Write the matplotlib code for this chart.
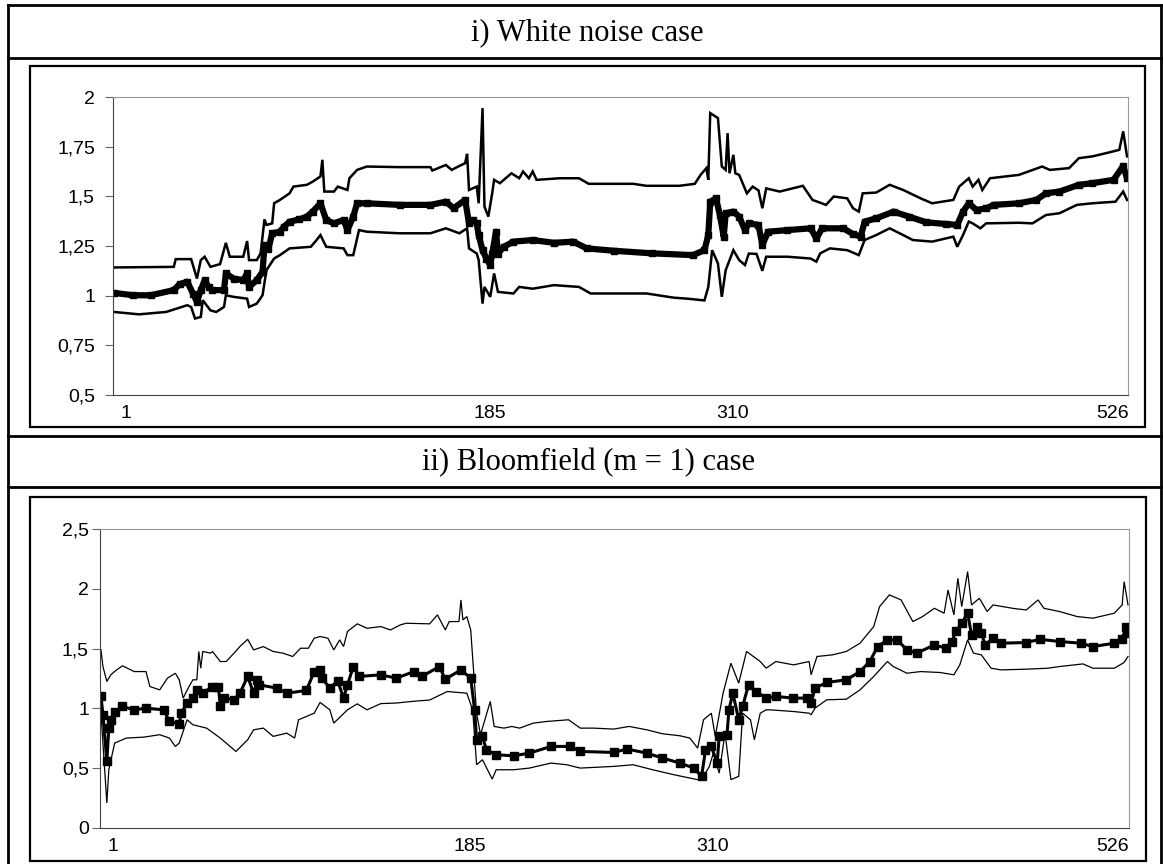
import matplotlib
matplotlib.use('Agg')
import matplotlib.pyplot as plt
import matplotlib.transforms as mtransforms
from matplotlib.lines import Line2D
from matplotlib.patches import Rectangle

W, H = 1163, 864

# i) White noise case : (observation, value)
wn_upper = [(1, 1.142), (32, 1.145), (33, 1.184), (41, 1.184), (44, 1.086), (46, 1.179), (48, 1.196),
            (51, 1.145), (56, 1.159), (59, 1.266), (61, 1.196), (68, 1.196), (70, 1.275), (71, 1.179),
            (75, 1.179), (77, 1.213), (79, 1.384), (80, 1.356), (83, 1.364), (84, 1.465), (87, 1.482),
            (92, 1.515), (94, 1.549), (101, 1.558), (104, 1.574), (108, 1.600), (109, 1.684), (110, 1.524),
            (115, 1.524), (117, 1.549), (122, 1.532), (123, 1.591), (127, 1.633), (132, 1.650), (149, 1.647),
            (165, 1.647), (166, 1.630), (173, 1.658), (176, 1.633), (180, 1.653), (183, 1.667), (184, 1.714),
            (185, 1.532), (189, 1.549), (190, 1.465), (192, 1.944), (193, 1.448), (195, 1.398), (197, 1.515),
            (198, 1.583), (201, 1.566), (204, 1.591), (207, 1.616), (211, 1.591), (213, 1.625), (216, 1.591),
            (218, 1.625), (220, 1.583), (232, 1.591), (242, 1.591), (247, 1.563), (270, 1.563), (277, 1.553),
            (294, 1.553), (302, 1.563), (305, 1.608), (308, 1.642), (309, 1.583), (310, 1.919), (314, 1.894),
            (316, 1.650), (318, 1.633), (319, 1.818), (320, 1.616), (322, 1.709), (323, 1.616), (325, 1.608),
            (329, 1.515), (332, 1.549), (335, 1.530), (337, 1.440), (339, 1.540), (346, 1.524), (358, 1.553),
            (363, 1.482), (370, 1.457), (374, 1.499), (381, 1.490), (384, 1.440), (387, 1.423), (389, 1.515),
            (396, 1.519), (403, 1.558), (410, 1.532), (419, 1.490), (425, 1.465), (436, 1.482), (439, 1.549),
            (444, 1.591), (446, 1.549), (449, 1.583), (451, 1.532), (455, 1.591), (470, 1.608), (482, 1.650),
            (486, 1.633), (496, 1.642), (501, 1.692), (508, 1.701), (515, 1.717), (522, 1.734), (524, 1.827),
            (526, 1.701)]
wn_mid = [(1, 1.014), (11, 1.002), (20, 1.002), (32, 1.028), (35, 1.058), (39, 1.070), (42, 1.010), (44, 0.969),
          (46, 1.028), (48, 1.078), (50, 1.044), (52, 1.028), (58, 1.028), (59, 1.112), (63, 1.086), (68, 1.078),
          (70, 1.112), (71, 1.044), (75, 1.078), (78, 1.120), (79, 1.255), (81, 1.233), (83, 1.314), (87, 1.322),
          (89, 1.347), (92, 1.372), (97, 1.384), (101, 1.398), (104, 1.423), (108, 1.465), (111, 1.381),
          (115, 1.364), (120, 1.381), (122, 1.330), (125, 1.398), (127, 1.465), (132, 1.465), (149, 1.457),
          (165, 1.457), (173, 1.473), (177, 1.440), (183, 1.482), (185, 1.364), (187, 1.381), (189, 1.364),
          (190, 1.305), (192, 1.229), (194, 1.187), (196, 1.154), (197, 1.212), (199, 1.322), (200, 1.212),
          (203, 1.246), (208, 1.272), (218, 1.280), (229, 1.266), (239, 1.272), (246, 1.238), (260, 1.226),
          (280, 1.213), (301, 1.204), (307, 1.229), (309, 1.305), (310, 1.473), (313, 1.490), (315, 1.406),
          (317, 1.297), (318, 1.415), (322, 1.423), (325, 1.398), (328, 1.330), (330, 1.364), (335, 1.356),
          (337, 1.255), (340, 1.322), (350, 1.330), (362, 1.339), (365, 1.288), (368, 1.339), (379, 1.339),
          (384, 1.310), (388, 1.297), (390, 1.373), (396, 1.389), (405, 1.423), (413, 1.398), (422, 1.369),
          (432, 1.361), (438, 1.356), (441, 1.423), (444, 1.465), (448, 1.431), (453, 1.440), (457, 1.457),
          (470, 1.465), (479, 1.482), (484, 1.515), (491, 1.524), (501, 1.558), (508, 1.566), (519, 1.583),
          (524, 1.653), (526, 1.591)]
wn_lower = [(1, 0.918), (14, 0.906), (28, 0.918), (39, 0.952), (41, 0.943), (43, 0.885), (46, 0.893), (47, 0.977),
            (51, 0.926), (54, 0.918), (58, 0.943), (59, 1.002), (63, 0.994), (70, 0.985), (71, 0.943), (75, 0.960),
            (78, 1.002), (80, 1.128), (84, 1.187), (87, 1.204), (92, 1.238), (103, 1.246), (106, 1.280),
            (108, 1.305), (111, 1.246), (120, 1.238), (122, 1.204), (125, 1.204), (128, 1.330), (132, 1.322),
            (149, 1.314), (165, 1.314), (173, 1.339), (180, 1.314), (184, 1.339), (185, 1.238), (189, 1.212),
            (190, 1.179), (192, 0.960), (193, 1.044), (196, 0.994), (198, 1.112), (200, 1.019), (208, 1.011),
            (211, 1.044), (218, 1.035), (229, 1.053), (242, 1.044), (248, 1.011), (277, 1.011), (291, 0.990),
            (298, 0.985), (307, 0.976), (309, 1.044), (311, 1.229), (314, 1.162), (316, 0.994), (318, 1.128),
            (322, 1.229), (325, 1.179), (328, 1.154), (330, 1.212), (334, 1.210), (337, 1.125), (339, 1.196),
            (350, 1.196), (362, 1.187), (365, 1.171), (367, 1.213), (372, 1.238), (381, 1.229), (387, 1.204),
            (390, 1.280), (396, 1.305), (403, 1.339), (410, 1.305), (415, 1.280), (425, 1.272), (436, 1.297),
            (438, 1.246), (441, 1.305), (444, 1.373), (446, 1.364), (450, 1.339), (453, 1.364), (470, 1.367),
            (477, 1.364), (484, 1.406), (491, 1.415), (500, 1.457), (508, 1.465), (520, 1.473), (524, 1.524),
            (526, 1.482)]

# ii) Bloomfield (m = 1) case
bf_upper = [(1, 1.489), (2, 1.350), (4, 1.225), (6, 1.281), (9, 1.322), (12, 1.356), (18, 1.308), (24, 1.308),
            (26, 1.183), (31, 1.155), (35, 1.253), (39, 1.294), (41, 1.239), (43, 1.086), (46, 1.183), (48, 1.239),
            (50, 1.239), (51, 1.476), (52, 1.336), (53, 1.476), (57, 1.462), (58, 1.476), (62, 1.392), (65, 1.392),
            (69, 1.462), (72, 1.517), (76, 1.578), (79, 1.489), (84, 1.517), (89, 1.476), (94, 1.462), (99, 1.434),
            (103, 1.503), (107, 1.503), (110, 1.587), (113, 1.601), (117, 1.587), (120, 1.489), (123, 1.573),
            (125, 1.517), (127, 1.643), (132, 1.707), (137, 1.670), (144, 1.684), (149, 1.656), (154, 1.698),
            (157, 1.712), (169, 1.707), (173, 1.782), (177, 1.656), (179, 1.726), (184, 1.726), (185, 1.907),
            (186, 1.740), (188, 1.768), (190, 1.656), (193, 0.960), (195, 0.780), (198, 0.947), (200, 1.058),
            (202, 0.849), (207, 0.835), (211, 0.849), (215, 0.835), (222, 0.877), (229, 0.891), (240, 0.905),
            (246, 0.835), (253, 0.835), (263, 0.827), (271, 0.849), (280, 0.821), (288, 0.788), (297, 0.771),
            (302, 0.752), (306, 0.668), (309, 0.905), (313, 0.960), (315, 0.766), (319, 1.127), (323, 1.378),
            (327, 1.211), (331, 1.476), (338, 1.392), (341, 1.336), (346, 1.392), (355, 1.364), (363, 1.392),
            (364, 1.281), (367, 1.434), (375, 1.448), (382, 1.476), (389, 1.545), (396, 1.684), (399, 1.851),
            (404, 1.949), (410, 1.907), (416, 1.726), (421, 1.768), (427, 1.837), (432, 1.796), (434, 1.990),
            (437, 1.782), (439, 2.088), (441, 1.851), (444, 2.144), (446, 1.865), (450, 1.921), (454, 1.810),
            (457, 1.865), (467, 1.837), (474, 1.823), (480, 1.907), (483, 1.837), (491, 1.810), (500, 1.768),
            (508, 1.754), (519, 1.796), (523, 1.865), (524, 2.060), (526, 1.865)]
bf_mid = [(1, 1.105), (2, 0.947), (4, 0.557), (5, 0.835), (6, 0.905), (8, 0.974), (12, 1.016), (18, 0.988),
          (24, 1.002), (33, 0.988), (36, 0.891), (41, 0.869), (42, 0.960), (45, 1.044), (48, 1.086), (50, 1.155),
          (53, 1.127), (58, 1.183), (61, 1.183), (62, 1.016), (64, 1.086), (69, 1.072), (72, 1.127), (76, 1.267),
          (79, 1.127), (81, 1.239), (82, 1.197), (91, 1.169), (96, 1.127), (106, 1.150), (110, 1.308),
          (113, 1.322), (114, 1.253), (118, 1.169), (122, 1.231), (125, 1.086), (127, 1.197), (130, 1.350),
          (133, 1.267), (144, 1.281), (152, 1.253), (161, 1.308), (165, 1.267), (174, 1.350), (177, 1.244),
          (185, 1.322), (190, 1.253), (192, 0.988), (193, 0.738), (196, 0.766), (198, 0.654), (203, 0.612),
          (212, 0.604), (220, 0.626), (231, 0.682), (241, 0.682), (246, 0.640), (263, 0.632), (270, 0.660),
          (280, 0.626), (288, 0.585), (297, 0.543), (304, 0.501), (308, 0.432), (310, 0.649), (313, 0.682),
          (316, 0.543), (317, 0.766), (321, 0.780), (322, 0.988), (324, 1.127), (327, 0.905), (329, 1.016),
          (332, 1.197), (336, 1.141), (341, 1.086), (346, 1.100), (355, 1.086), (362, 1.086), (364, 1.044),
          (366, 1.169), (372, 1.217), (382, 1.239), (389, 1.308), (394, 1.392), (398, 1.517), (403, 1.573),
          (408, 1.573), (413, 1.489), (418, 1.462), (427, 1.531), (433, 1.503), (436, 1.559), (438, 1.643),
          (441, 1.712), (444, 1.796), (446, 1.615), (449, 1.684), (451, 1.629), (453, 1.531), (457, 1.587),
          (461, 1.545), (474, 1.551), (481, 1.578), (491, 1.559), (502, 1.545), (508, 1.517), (519, 1.545),
          (523, 1.578), (525, 1.684), (526, 1.629)]
bf_lower = [(1, 0.960), (4, 0.209), (5, 0.487), (8, 0.710), (14, 0.752), (23, 0.760), (31, 0.780), (36, 0.752),
            (39, 0.682), (41, 0.710), (45, 0.905), (48, 0.863), (55, 0.835), (62, 0.752), (70, 0.640), (76, 0.738),
            (79, 0.821), (84, 0.835), (89, 0.766), (96, 0.793), (100, 0.752), (102, 0.905), (110, 0.960),
            (113, 1.050), (118, 0.988), (120, 0.877), (127, 0.988), (132, 1.038), (137, 0.988), (144, 1.040),
            (152, 1.045), (161, 1.060), (169, 1.070), (178, 1.141), (188, 1.127), (191, 0.988), (193, 0.529),
            (196, 0.571), (201, 0.409), (203, 0.487), (212, 0.487), (220, 0.501), (231, 0.543), (239, 0.529),
            (246, 0.501), (263, 0.515), (273, 0.529), (283, 0.487), (294, 0.445), (306, 0.404), (308, 0.404),
            (312, 0.515), (314, 0.626), (317, 0.459), (320, 0.793), (323, 0.404), (327, 0.432), (329, 0.960),
            (333, 0.905), (335, 0.738), (338, 0.960), (341, 0.988), (343, 0.988), (355, 0.974), (363, 0.960),
            (364, 0.947), (366, 1.002), (372, 1.072), (382, 1.077), (389, 1.155), (396, 1.267), (403, 1.392),
            (406, 1.350), (413, 1.294), (420, 1.308), (430, 1.300), (437, 1.281), (440, 1.364), (444, 1.573),
            (447, 1.462), (451, 1.448), (456, 1.336), (461, 1.322), (474, 1.328), (485, 1.336), (491, 1.350),
            (503, 1.372), (508, 1.336), (519, 1.336), (524, 1.384), (526, 1.434)]

x_ticks = [1, 185, 310, 526]
x_ticklabels = ['1', '185', '310', '526']
wn_yticks = [0.5, 0.75, 1, 1.25, 1.5, 1.75, 2]
wn_yticklabels = ['0,5', '0,75', '1', '1,25', '1,5', '1,75', '2']
bf_yticks = [0, 0.5, 1, 1.5, 2, 2.5]
bf_yticklabels = ['0', '0,5', '1', '1,5', '2', '2,5']
titles = ['i) White noise case', 'ii) Bloomfield (m = 1) case']


def box(x0, y0, x1, y1):
    # pixel box -> figure fraction rect
    return [x0 / W, 1 - y1 / H, (x1 - x0) / W, (y1 - y0) / H]


def hline(fig, y, x0, x1, lw=2):
    fig.add_artist(Line2D([x0 / W, x1 / W], [1 - y / H, 1 - y / H], color='black', lw=lw))


def vline(fig, x, y0, y1, lw=2):
    fig.add_artist(Line2D([x / W, x / W], [1 - y0 / H, 1 - y1 / H], color='black', lw=lw))


def style_axes(ax, yticks, ylabels, ypad, shifts):
    ax.set_xlim(0.5, 526.5)
    ax.set_ylim(yticks[0], yticks[-1])
    ax.set_yticks(yticks)
    ax.set_yticklabels(ylabels)
    ax.set_xticks(x_ticks)
    ax.set_xticklabels(x_ticklabels)
    for side in ['left', 'bottom']:
        ax.spines[side].set_color('#444444')
    for side in ['top', 'right']:
        ax.spines[side].set_color('#999999')
    ax.tick_params(axis='y', direction='out', length=6, color='#666666', labelsize=14, pad=ypad)
    ax.tick_params(axis='x', length=0, labelsize=14, pad=7)
    for lab in ax.get_yticklabels() + ax.get_xticklabels():
        lab.set_fontfamily('Liberation Sans')
    for lab, dx in zip(ax.get_xticklabels(), shifts):
        lab.set_transform(lab.get_transform() + mtransforms.ScaledTranslation(dx / 100, 0, fig.dpi_scale_trans))


def draw(ax, upper, mid, lower, thin_lw, mid_lw, msize):
    for series in [upper, lower]:
        xs, ys = zip(*series)
        ax.plot(xs, ys, color='black', lw=thin_lw, solid_joinstyle='miter')
    xs, ys = zip(*mid)
    ax.plot(xs, ys, color='black', lw=mid_lw, marker='s', markersize=msize)


fig = plt.figure(figsize=(W / 100, H / 100), dpi=100)

# table frame
hline(fig, 5, 8, 1161)
hline(fig, 57.7, 8, 1161)
hline(fig, 436, 8, 1161)
hline(fig, 487, 8, 1161)
vline(fig, 8, 5, 864)
vline(fig, 1161, 5, 864)
fig.text(587 / W, 1 - 33 / H, titles[0], ha='center', va='center', fontsize=22, family='Liberation Serif')
fig.text(588 / W, 1 - 463 / H, titles[1], ha='center', va='center', fontsize=22, family='Liberation Serif')

# chart boxes
for x0, y0, x1, y1 in [(30, 66, 1145, 427), (30, 497, 1146, 861)]:
    fig.add_artist(Rectangle((x0 / W, 1 - y1 / H), (x1 - x0) / W, (y1 - y0) / H,
                             transform=fig.transFigure, fill=False, ec='black', lw=1.6))

ax1 = fig.add_axes(box(113, 97, 1128, 395))
draw(ax1, wn_upper, wn_mid, wn_lower, 1.8, 4.5, 4.6)
style_axes(ax1, wn_yticks, wn_yticklabels, 7, [12, 21, 22, -14])

ax2 = fig.add_axes(box(100, 529, 1129, 828))
draw(ax2, bf_upper, bf_mid, bf_lower, 0.9, 2.2, 5.2)
style_axes(ax2, bf_yticks, bf_yticklabels, 2, [12, 9, 7, -15])

fig.savefig('out.png', dpi=100)
